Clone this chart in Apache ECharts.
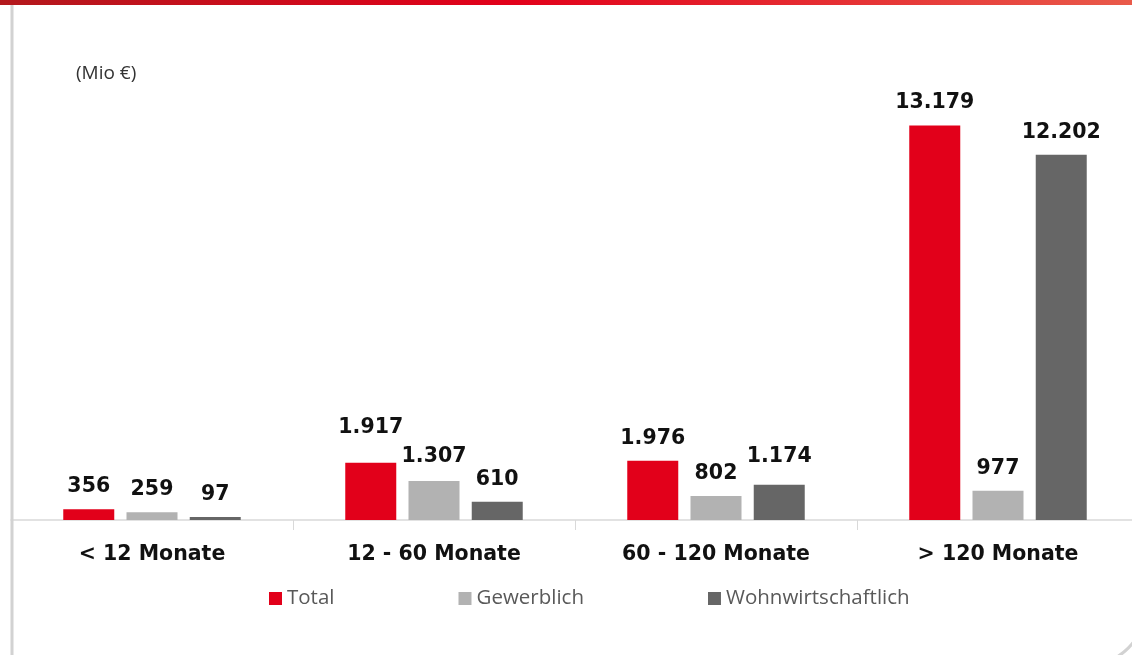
<!DOCTYPE html>
<html>
<head>
<meta charset="utf-8">
<script src="https://cdn.jsdelivr.net/npm/echarts@6/dist/echarts.min.js"></script>
<style>
html,body{margin:0;padding:0;background:#fff;}
#c{width:1132px;height:655px;}
</style>
</head>
<body>
<div id="c"></div>
<script>
const categories = ['< 12 Monate', '12 - 60 Monate', '60 - 120 Monate', '> 120 Monate'];
const seriesNames = ['Total', 'Gewerblich', 'Wohnwirtschaftlich'];
const totalValues = [356, 1917, 1976, 13179];
const gewerblichValues = [259, 1307, 802, 977];
const wohnValues = [97, 610, 1174, 12202];
const unitLabel = '(Mio €)';

// extra lift (px) of individual value labels, as placed in the reference
const labelLift = [
  [0, 12, 0, 0],
  [0, 2, 0, 0],
  [0, 0, 6, 0]
];
const colors = ['#e2001a', '#b2b2b2', '#666666'];

function fmt(v) {
  return String(v).replace(/\B(?=(\d{3})+(?!\d))/g, '.');
}

const valueSets = [totalValues, gewerblichValues, wohnValues];
const series = valueSets.map((vals, si) => ({
  name: seriesNames[si],
  type: 'bar',
  barWidth: 51,
  barGap: '24%',
  itemStyle: { color: colors[si] },
  data: vals.map((v, i) => ({
    value: v,
    label: { offset: [0, -labelLift[si][i]] }
  })),
  label: {
    show: true,
    position: 'top',
    distance: 12,
    fontFamily: 'DejaVu Sans',
    fontWeight: 'bold',
    fontSize: 20.5,
    color: '#111',
    formatter: p => fmt(p.value)
  }
}));

const chart = echarts.init(document.getElementById('c'));
chart.setOption({
  animation: false,
  backgroundColor: '#fff',
  color: colors,
  graphic: [
    {
      type: 'rect',
      shape: { x: 0, y: 0, width: 1132, height: 5 },
      style: {
        fill: new echarts.graphic.LinearGradient(0, 0, 1, 0, [
          { offset: 0, color: '#b3191d' },
          { offset: 0.45, color: '#e2001a' },
          { offset: 1, color: '#e95a4a' }
        ])
      },
      z: 10
    },
    {
      type: 'line',
      shape: { x1: 12, y1: 5, x2: 12, y2: 655 },
      style: { stroke: '#d2d2d2', lineWidth: 3 },
      z: 5
    },
    {
      type: 'arc',
      shape: { cx: 1090, cy: 610, r: 54, startAngle: 0, endAngle: Math.PI / 2 },
      style: { stroke: '#d2d2d2', lineWidth: 3, fill: null },
      z: 5
    },
    {
      type: 'text',
      left: 76,
      top: 64,
      style: { text: unitLabel, font: '19px "Open Sans"', fill: '#333' }
    }
  ],
  legend: {
    left: 269,
    top: 588,
    padding: 0,
    itemWidth: 13,
    itemHeight: 13,
    itemGap: 124,
    icon: 'rect',
    textStyle: { fontFamily: 'Open Sans', fontWeight: 'normal', fontSize: 20.5, color: '#595959' },
    data: seriesNames
  },
  grid: { left: 11, width: 1128, top: 101, bottom: 135, containLabel: false, outerBoundsMode: 'none' },
  xAxis: {
    type: 'category',
    data: categories,
    axisLine: { lineStyle: { color: '#d9d9d9', width: 1.5 } },
    axisTick: { show: true, length: 10, lineStyle: { color: '#d9d9d9' } },
    axisLabel: {
      margin: 24,
      fontFamily: 'DejaVu Sans',
      fontWeight: 'bold',
      fontSize: 20.5,
      color: '#111'
    }
  },
  yAxis: {
    type: 'value',
    min: 0,
    max: 14000,
    show: false,
    splitLine: { show: false }
  },
  series: series
});
</script>
</body>
</html>
